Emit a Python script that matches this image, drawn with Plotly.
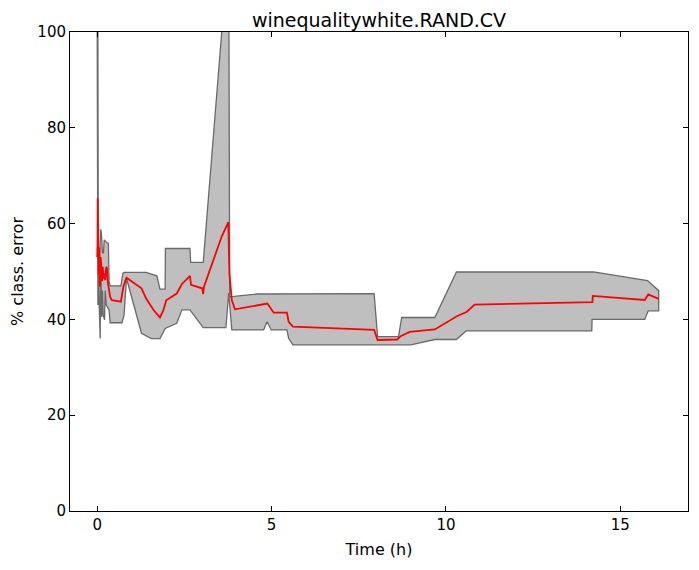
import plotly.graph_objects as go

# Upper bound of band
upper_t = [0.0, 0.02, 0.03, 0.06, 0.10, 0.12, 0.15, 0.18, 0.20, 0.24, 0.28, 0.32, 0.34, 0.37,
           0.68, 0.735, 0.77, 1.40, 1.71, 1.80, 1.947, 1.956, 2.66, 2.68, 3.04, 3.77, 3.80,
           4.57, 7.94, 8.04, 8.64, 8.73, 9.68, 10.3, 14.23, 15.78, 16.1]
upper_v = [100, 100, 55, 52, 58.8, 58.0, 54.0, 53.8, 56.6, 56.2, 56.0, 55.9, 47.9, 47.0,
           47.0, 49.6, 49.8, 49.8, 49.1, 46.3, 46.3, 54.8, 54.8, 51.9, 51.9, 118, 44.7,
           45.3, 45.4, 36.4, 36.4, 40.4, 40.4, 49.9, 49.9, 48.1, 46.0]

# Lower bound of band
lower_t = [0.02, 0.03, 0.05, 0.086, 0.10, 0.115, 0.13, 0.15, 0.17, 0.21, 0.23, 0.26, 0.30, 0.34,
           0.372, 0.71, 0.77, 0.84, 1.27, 1.55, 1.80, 1.95, 2.28, 2.43, 2.66, 3.04, 3.69, 3.77,
           3.86, 4.77, 4.87, 4.99, 5.44, 5.49, 5.61, 8.99, 9.68, 10.3, 10.58, 14.18, 14.19,
           15.70, 15.8, 16.1]
lower_v = [43, 50, 44, 36.0, 52, 47, 40.5, 46, 41, 39.9, 46, 43, 42.5, 42,
           39.3, 39.3, 40.9, 48.6, 37.1, 36.0, 36.0, 38.1, 39.2, 42.0, 42.0, 38.3, 38.3, 45.5,
           37.8, 37.8, 39.5, 37.8, 37.8, 36.0, 34.7, 34.7, 35.8, 35.8, 37.6, 37.6, 40.0,
           40.0, 41.8, 41.8]

# Mean error
mean_t = [0.0, 0.01, 0.015, 0.025, 0.04, 0.06, 0.08, 0.10, 0.12, 0.14, 0.16, 0.18, 0.20, 0.23,
          0.26, 0.28, 0.31, 0.34, 0.372, 0.42, 0.678, 0.75, 0.84, 1.27, 1.40, 1.61, 1.80, 1.90,
          1.95, 1.98, 2.28, 2.43, 2.66, 2.69, 3.01, 3.04, 3.06, 3.57, 3.76, 3.79, 3.86, 3.95,
          4.57, 4.88, 5.06, 5.44, 5.49, 5.61, 7.94, 8.04, 8.6, 8.7, 8.96, 9.68, 10.3, 10.6,
          10.82, 14.2, 14.21, 15.7, 15.8, 16.1]
mean_v = [53, 56, 65.3, 52, 49.5, 55, 46.8, 53, 50, 48, 51, 48.5, 49.6, 48.2,
          51, 50.7, 47.5, 45.5, 44.7, 44.0, 43.7, 46.8, 48.7, 46.5, 44.4, 42.0, 40.4, 42.0,
          43.5, 44.0, 45.4, 47.4, 49.1, 47.2, 46.5, 45.3, 46.8, 57.3, 60.3, 49.6, 44.0, 42.1,
          42.9, 43.3, 41.4, 41.4, 39.5, 38.5, 37.8, 35.7, 35.8, 36.5, 37.4, 37.9, 40.6, 41.6,
          43.1, 43.6, 44.9, 44.05, 45.2, 44.3]

x_ticks = [0, 5, 10, 15]
y_ticks = [0, 20, 40, 60, 80, 100]

FONT = "DejaVu Sans"
# page body has an 8px margin, so the figure is sized to fit inside it
W, H = 683, 554

fig = go.Figure()
fig.add_trace(go.Scatter(
    x=upper_t + lower_t[::-1] + [upper_t[0]],
    y=upper_v + lower_v[::-1] + [upper_v[0]],
    mode="lines", fill="toself", fillcolor="#bfbfbf",
    line=dict(color="#6a6a6a", width=1.3), hoverinfo="skip", showlegend=False))
fig.add_trace(go.Scatter(
    x=mean_t, y=mean_v, mode="lines",
    line=dict(color="#ff0000", width=1.8), showlegend=False))

axis_common = dict(showline=True, linecolor="black", linewidth=1, mirror="allticks",
                   ticks="inside", ticklen=5, tickcolor="black", showgrid=False,
                   zeroline=False, automargin=False,
                   tickfont=dict(family=FONT, size=15, color="black"))

fig.update_layout(
    width=W, height=H,
    margin=dict(l=61.5, r=3, t=24, b=51),
    paper_bgcolor="white", plot_bgcolor="white",
    font=dict(family=FONT, color="black"),
    title=dict(text="winequalitywhite.RAND.CV", x=0.5, xref="paper", xanchor="center",
               y=1 - 12 / H, yanchor="middle", yref="container", automargin=False,
               font=dict(family=FONT, size=19, color="black")),
    xaxis=dict(range=[-0.78, 16.94], tickvals=x_ticks,
               title=dict(text="Time (h)", font=dict(family=FONT, size=16), standoff=10),
               **axis_common),
    yaxis=dict(range=[0, 100], tickvals=y_ticks,
               title=dict(text="% class. error", font=dict(family=FONT, size=16), standoff=9),
               **axis_common),
)

fig.write_html("out.html")
